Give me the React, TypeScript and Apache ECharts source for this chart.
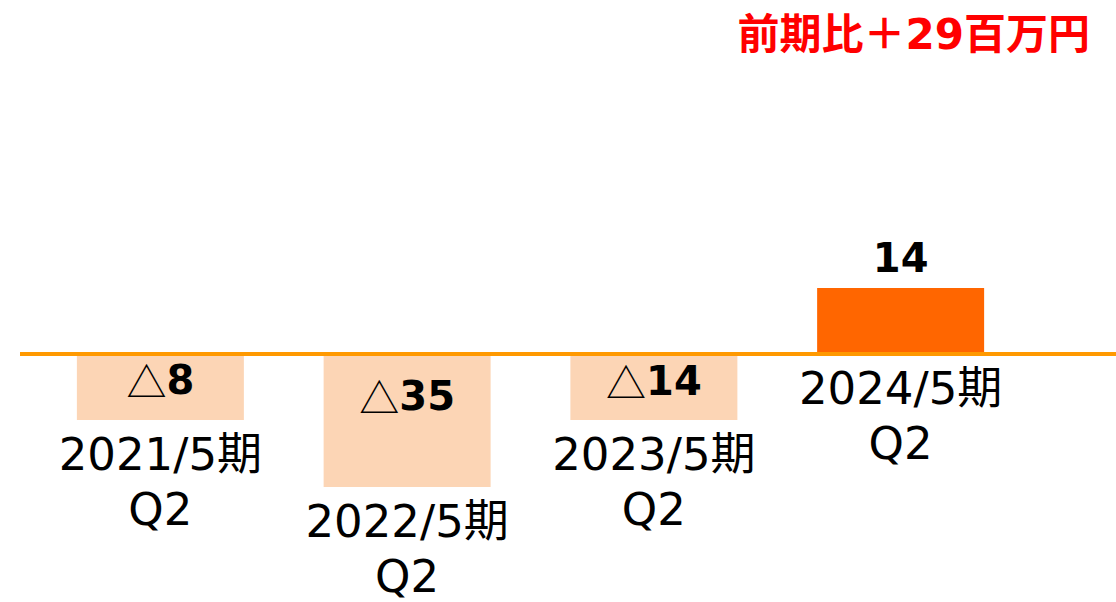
import React, { useEffect, useRef } from 'react';
import * as echarts from 'echarts';

const periods = ['2021/5期', '2022/5期', '2023/5期', '2024/5期'];
const quarter = 'Q2';
const values = [-8, -35, -14, 14];
const titleText = '前期比＋29百万円';

const NEG_COLOR = '#FCD5B5';
const POS_COLOR = '#FF6600';
const LINE_COLOR = '#FF9900';

export default function App() {
  const ref = useRef<HTMLDivElement>(null);
  useEffect(() => {
    const chart = echarts.init(ref.current!, null, { renderer: 'svg' });
    const categories = periods.map((p) => `${p}\n${quarter}`);
    const valueLabelDistance = [6, 22, 7, 10];
    const barData = values.map((v, i) => ({
      value: v,
      itemStyle: { color: v < 0 ? NEG_COLOR : POS_COLOR },
      label: { position: v < 0 ? 'insideTop' : 'top', distance: valueLabelDistance[i] },
    }));
    const MIN_H = 66;
    chart.setOption({
      animation: false,
      title: {
        text: titleText,
        right: 21,
        top: 8,
        textStyle: {
          color: '#FF0000',
          fontSize: 42,
          fontWeight: 'bold',
          fontFamily: 'DejaVu Sans, Noto Sans CJK JP',
        },
      },
      grid: { left: 37, right: 92, top: 202, bottom: 96, containLabel: false },
      xAxis: {
        type: 'category',
        data: categories,
        axisLine: { show: false },
        axisTick: { show: false },
        axisLabel: { show: false },
        splitLine: { show: false },
      },
      yAxis: {
        type: 'value',
        min: -40,
        max: 40,
        show: false,
        splitLine: { show: false },
      },
      series: [
        {
          type: 'bar',
          data: barData,
          barWidth: 167,
          barMinHeight: MIN_H,
          z: 2,
          label: {
            show: true,
            formatter: (p: any) =>
              p.value < 0 ? `{tri|△}{num|${-p.value}}` : `{num|${p.value}}`,
            rich: {
              tri: {
                fontFamily: 'Noto Sans CJK JP',
                fontSize: 40,
                fontWeight: 'normal',
                color: '#000',
              },
              num: {
                fontFamily: 'DejaVu Sans',
                fontSize: 40,
                fontWeight: 'bold',
                color: '#000',
              },
            },
          },
        },
        {
          type: 'bar',
          data: values,
          barWidth: 167,
          barGap: '-100%',
          barMinHeight: MIN_H,
          silent: true,
          z: 1,
          itemStyle: { color: 'rgba(0,0,0,0)' },
          label: {
            show: true,
            position: 'bottom',
            distance: 7,
            formatter: (p: any) => categories[p.dataIndex],
            fontSize: 45,
            lineHeight: 55,
            fontFamily: 'DejaVu Sans, Noto Sans CJK JP',
            color: '#000',
            align: 'center',
          },
        },
      ],
    });
    const y0 = chart.convertToPixel({ yAxisIndex: 0 }, 0) as number;
    chart.setOption({
      graphic: [
        {
          type: 'line',
          z: 100,
          shape: { x1: 20, y1: y0, x2: 1116, y2: y0 },
          style: { stroke: LINE_COLOR, lineWidth: 4 },
        },
      ],
    });
    return () => chart.dispose();
  }, []);
  return (
    <div
      ref={ref}
      style={{ position: 'absolute', left: 0, top: 0, width: 1116, height: 602 }}
    />
  );
}
